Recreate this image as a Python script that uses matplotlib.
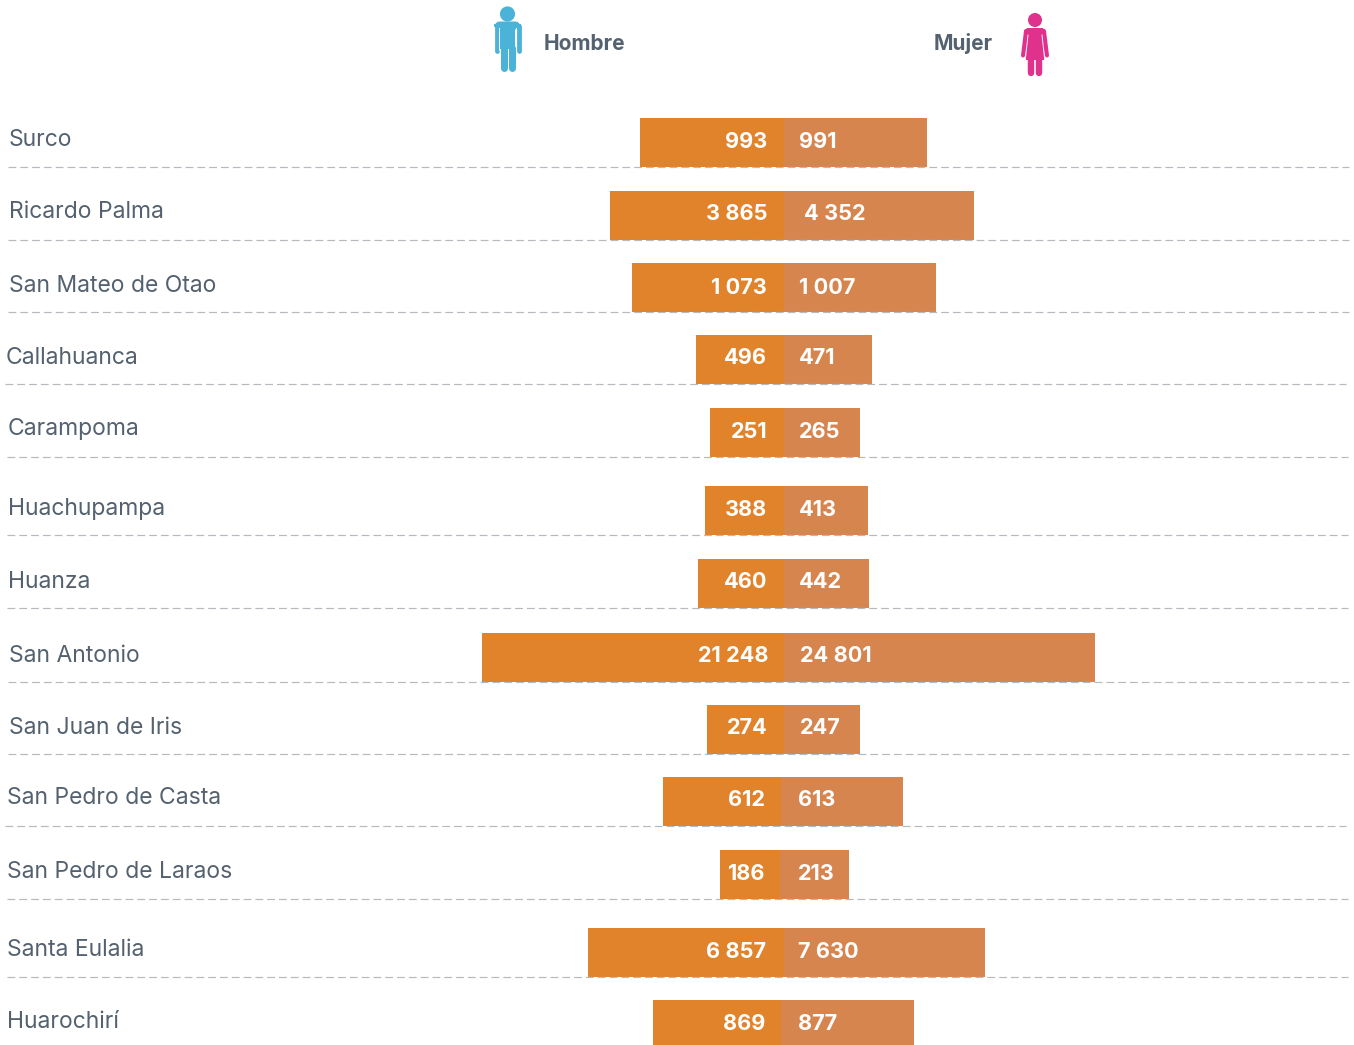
import numpy as np
import matplotlib
matplotlib.use("Agg")
import matplotlib.pyplot as plt
from matplotlib.patches import Circle, FancyBboxPatch, Polygon, Rectangle
from matplotlib.transforms import Affine2D

# datos
distritos = ["Surco", "Ricardo Palma", "San Mateo de Otao", "Callahuanca", "Carampoma",
             "Huachupampa", "Huanza", "San Antonio", "San Juan de Iris", "San Pedro de Casta",
             "San Pedro de Laraos", "Santa Eulalia", "Huarochirí"]
hombre = [993, 3865, 1073, 496, 251, 388, 460, 21248, 274, 612, 186, 6857, 869]
mujer = [991, 4352, 1007, 471, 265, 413, 442, 24801, 247, 613, 213, 7630, 877]

# la grafica original no es lineal: valor -> largo de barra en pixeles
escala_h_val = [0, 186, 251, 274, 388, 460, 496, 612, 869, 993, 1073, 3865, 6857, 21248]
escala_h_px = [0, 60, 74, 77, 79, 86, 88, 118, 128, 144, 152, 174, 196, 302]
escala_m_val = [0, 213, 247, 265, 413, 442, 471, 613, 877, 991, 1007, 4352, 7630, 24801]
escala_m_px = [0, 69, 75.5, 76, 84, 85, 88, 122, 133, 143, 152, 190, 201, 311]

# layout, todo en pixeles de la imagen
W, H = 1354, 1045
y_arriba = [118, 191, 263, 335, 408, 486, 559, 633, 705, 777, 850, 928, 1000]
y_abajo = [167, 240, 312, 384, 457, 535, 608, 682, 754, 826, 899, 977, 1045]
centro = [784, 784, 784, 784, 784, 784, 784, 784, 784, 781, 780, 784, 781]
x_nombre = [9, 9, 9, 6, 8, 8, 8, 9, 9, 7, 7, 7, 7]
y_nombre = [138, 209, 283, 355, 427, 506, 579, 653, 725, 796, 869, 948, 1020]
y_valor = [139.5, 212.5, 285.5, 356.5, 429.5, 507.5, 580.5, 654.5, 726.5, 798.5, 871.5, 949.5, 1022.5]
x_valor_h = [767, 767, 767, 767, 767, 767, 767, 768, 768, 765, 765, 766, 765]
x_valor_m = [799, 804, 799, 799, 799, 799, 799, 800, 800, 798, 798, 798, 798]
linea_x0 = [8, 8, 8, 5, 7, 7, 7, 8, 8, 5, 7, 7]

naranja = "#e0832b"
naranja2 = "#d7854f"
gris_texto = "#54616f"
azul = "#4bb3d8"
rosa = "#e0318c"
fuente = "Inter"


def px(v):
    return v * 72 / 100


def escala(xs, ys):
    return (lambda v: np.interp(v, xs, ys), lambda p: np.interp(p, ys, xs))


def miles(v):
    return f"{v:,}".replace(",", "\u2005")


fig = plt.figure(figsize=(W / 100, H / 100), dpi=100)
fig.patch.set_facecolor("white")

# dos ejes que se juntan en x=784, uno crece a la izquierda y otro a la derecha
ax_h = fig.add_axes([(784 - 302) / W, 0, 302 / W, 1])
ax_h.set_xscale("function", functions=escala(escala_h_val, escala_h_px))
ax_h.set_xlim(max(hombre), 0)
ax_m = fig.add_axes([784 / W, 0, 311 / W, 1])
ax_m.set_xscale("function", functions=escala(escala_m_val, escala_m_px))
ax_m.set_xlim(0, max(mujer))

for ax, valores, color in [(ax_h, hombre, naranja), (ax_m, mujer, naranja2)]:
    ax.set_ylim(H, 0)
    ax.axis("off")
    for i, v in enumerate(valores):
        alto = y_abajo[i] - y_arriba[i]
        b = ax.barh(y_arriba[i] + alto / 2, v, height=alto, color=color, linewidth=0)[0]
        b.set_clip_on(False)
        b.set_transform(ax.transData + Affine2D().translate(centro[i] - 784, 0))

# capa de arriba para textos, lineas e iconos
ov = fig.add_axes([0, 0, 1, 1], zorder=5)
ov.set_xlim(0, W)
ov.set_ylim(H, 0)
ov.axis("off")
ov.patch.set_alpha(0)

for i in range(len(distritos)):
    ov.text(x_nombre[i], y_nombre[i], distritos[i], fontsize=16.5, family=fuente, color=gris_texto,
            ha="left", va="center_baseline")
    ov.text(x_valor_h[i], y_valor[i], miles(hombre[i]), fontsize=15.6, family=fuente,
            fontweight="bold", color="white", ha="right", va="center_baseline")
    ov.text(x_valor_m[i], y_valor[i], miles(mujer[i]), fontsize=15.6, family=fuente,
            fontweight="bold", color="white", ha="left", va="center_baseline")

for i, x0 in enumerate(linea_x0):
    ov.plot([x0, x0 + 1341], [y_abajo[i], y_abajo[i]], color="#b4babf", lw=0.85,
            dashes=(6.6, 3.4), solid_capstyle="butt")

ov.text(544, 41.5, "Hombre", fontsize=15, family=fuente, fontweight="bold", color=gris_texto,
        ha="left", va="center_baseline")
ov.text(993, 41.5, "Mujer", fontsize=15, family=fuente, fontweight="bold", color=gris_texto,
        ha="right", va="center_baseline")

# icono hombre
ov.add_patch(Circle((507.5, 14), 7.6, color=azul, lw=0))
ov.add_patch(FancyBboxPatch((497, 24), 21, 3, boxstyle="round,pad=0,rounding_size=3", mutation_aspect=1,
                            fc=azul, ec=azul, lw=px(5)))
ov.add_patch(Rectangle((500, 24), 15, 25, fc=azul, lw=0))
for x in (496.5, 518.5):
    ov.plot([x, x], [26, 50.7], color=azul, lw=px(4.8), solid_capstyle="round")
ov.plot([499.4, 499.4], [28, 50], color="white", lw=px(0.9))
ov.plot([515.6, 515.6], [28, 50], color="white", lw=px(0.9))
for x in (503.5, 511.5):
    ov.plot([x, x], [48, 68.2], color=azul, lw=px(7), solid_capstyle="round")

# icono mujer
ov.add_patch(Circle((1035, 20), 7, color=rosa, lw=0))
ov.add_patch(Polygon([(1027, 28), (1043, 28), (1046, 32), (1044, 60), (1026, 60), (1024, 32)],
                     closed=True, fc=rosa, lw=0))
ov.plot([1026, 1023], [31, 55.5], color=rosa, lw=px(4), solid_capstyle="round")
ov.plot([1044, 1047], [31, 55.5], color=rosa, lw=px(4), solid_capstyle="round")
ov.plot([1028, 1025.6], [35, 57], color="white", lw=px(0.9))
ov.plot([1042, 1044.4], [35, 57], color="white", lw=px(0.9))
for x in (1030.5, 1039):
    ov.plot([x, x], [58, 73], color=rosa, lw=px(6.4), solid_capstyle="round")

fig.savefig("out.png", dpi=100)
